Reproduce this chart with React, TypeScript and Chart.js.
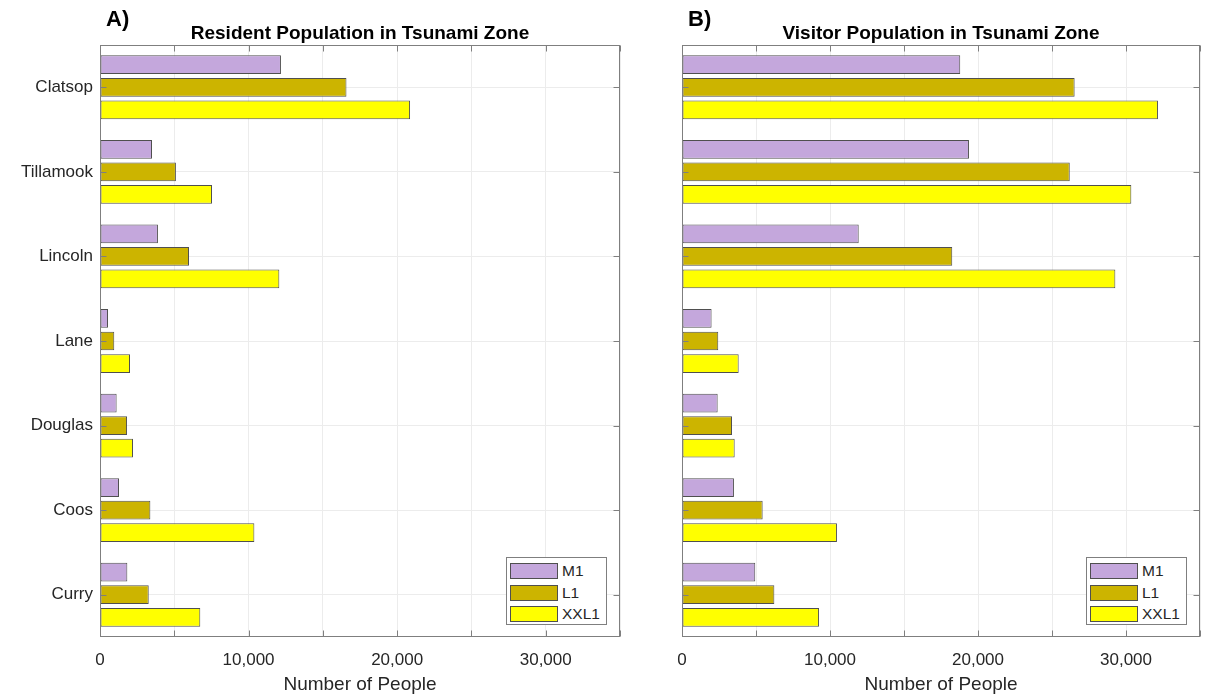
import React, { useEffect, useRef } from 'react';
import { Chart, registerables } from 'chart.js';

Chart.register(...registerables);

// ---------- data ----------
const categories = ['Clatsop', 'Tillamook', 'Lincoln', 'Lane', 'Douglas', 'Coos', 'Curry'];
const seriesNames = ['M1', 'L1', 'XXL1'];
const seriesColors = ['#c4a7dc', '#ccb400', '#ffff00'];

const residentM1 = [12180, 3500, 3900, 540, 1120, 1280, 1840];
const residentL1 = [16590, 5110, 5990, 960, 1820, 3390, 3280];
const residentXXL1 = [20870, 7540, 12070, 2020, 2220, 10390, 6750];

const visitorM1 = [18800, 19390, 11940, 2000, 2410, 3510, 4950];
const visitorL1 = [26530, 26200, 18260, 2450, 3380, 5450, 6240];
const visitorXXL1 = [32160, 30360, 29280, 3830, 3560, 10470, 9260];

const xMin = 0;
const xMax = 35000;
const xStep = 5000;
const xLabelEvery = 10000;

const FONT = "'Liberation Sans', Arial, Helvetica, sans-serif";
const TEXT = '#262626';
const FRAME = '#7f7f7f';
const GRID = '#ececec';

function formatThousands(v: number): string {
  return String(Math.round(v)).replace(/\B(?=(\d{3})+(?!\d))/g, ',');
}

const framePlugin = {
  id: 'matlabFrame',
  afterDraw(chart: any) {
    const { ctx, chartArea } = chart;
    const L = Math.round(chartArea.left) + 0.5;
    const R = Math.round(chartArea.right) - 0.5;
    const T = Math.round(chartArea.top) + 0.5;
    const B = Math.round(chartArea.bottom) - 0.5;
    const tl = 6;
    ctx.save();
    ctx.strokeStyle = FRAME;
    ctx.lineWidth = 1;
    ctx.beginPath();
    const xs = chart.scales.x;
    xs.ticks.forEach((t: any) => {
      const px = Math.round(xs.getPixelForValue(t.value)) + 0.5;
      ctx.moveTo(px, B);
      ctx.lineTo(px, B - tl);
      ctx.moveTo(px, T);
      ctx.lineTo(px, T + tl);
    });
    const ys = chart.scales.y;
    categories.forEach((_c, i) => {
      const py = Math.round(ys.getPixelForValue(i)) + 0.5;
      ctx.moveTo(L, py);
      ctx.lineTo(L + tl, py);
      ctx.moveTo(R, py);
      ctx.lineTo(R - tl, py);
    });
    ctx.stroke();
    ctx.strokeRect(L, T, R - L, B - T);
    ctx.restore();
  },
};

type PanelProps = {
  left: number;
  width: number;
  plotLeft: number; // relative to canvas
  plotRight: number; // relative to canvas
  title: string;
  letter: string;
  values: number[][];
  showYLabels: boolean;
};

const HEIGHT = 694;
const PLOT_TOP = 45;
const PLOT_BOTTOM = 637;

function Panel(props: PanelProps) {
  const ref = useRef<HTMLCanvasElement | null>(null);
  useEffect(() => {
    if (!ref.current) return;
    const chart = new Chart(ref.current, {
      type: 'bar',
      data: {
        labels: categories,
        datasets: seriesNames.map((name, i) => ({
          label: name,
          data: props.values[i],
          backgroundColor: seriesColors[i],
          borderColor: '#4f4f4f',
          borderWidth: 1,
          borderSkipped: false,
          categoryPercentage: 0.8,
          barPercentage: 0.83,
        })),
      },
      options: {
        indexAxis: 'y',
        animation: false,
        responsive: false,
        maintainAspectRatio: false,
        layout: {
          padding: {
            left: 0,
            right: props.width - props.plotRight,
            top: 0,
            bottom: 0,
          },
        },
        plugins: {
          legend: { display: false },
          tooltip: { enabled: false },
          title: {
            display: true,
            fullSize: false,
            text: props.title,
            color: '#000',
            font: { family: FONT, size: 19, weight: 'bold', lineHeight: 1 },
            padding: { top: 24, bottom: PLOT_TOP - 24 - 19 },
          },
        },
        scales: {
          x: {
            type: 'linear',
            position: 'bottom',
            min: xMin,
            max: xMax,
            border: { display: false },
            grid: { color: GRID, drawTicks: false },
            ticks: {
              stepSize: xStep,
              autoSkip: false,
              maxRotation: 0,
              padding: 13,
              color: TEXT,
              font: { family: FONT, size: 17 },
              callback: (v: any) => (Number(v) % xLabelEvery === 0 ? formatThousands(Number(v)) : ''),
            },
            title: {
              display: true,
              text: 'Number of People',
              color: TEXT,
              font: { family: FONT, size: 19, lineHeight: 1 },
              padding: { top: 0, bottom: 0 },
            },
            afterFit: (s: any) => {
              s.height = HEIGHT - PLOT_BOTTOM;
            },
          },
          y: {
            type: 'category',
            offset: true,
            border: { display: false },
            grid: { color: GRID, drawTicks: false, offset: false },
            ticks: {
              display: props.showYLabels,
              padding: 7,
              color: TEXT,
              font: { family: FONT, size: 17 },
            },
            afterFit: (s: any) => {
              s.width = props.plotLeft;
            },
          },
        },
      },
      plugins: [framePlugin],
    });
    return () => chart.destroy();
  }, []);

  const legendRight = props.left + props.plotRight - 13;
  const legendBottom = PLOT_BOTTOM - 12;
  const legendW = 101;
  const legendH = 68;

  return (
    <>
      <canvas
        ref={ref}
        width={props.width}
        height={HEIGHT}
        style={{ position: 'absolute', left: props.left, top: 0, width: props.width, height: HEIGHT }}
      />
      <div
        style={{
          position: 'absolute',
          left: props.left + props.plotLeft + 6,
          top: 6,
          fontFamily: FONT,
          fontWeight: 'bold',
          fontSize: 22,
          lineHeight: '26px',
          color: '#000',
        }}
      >
        {props.letter}
      </div>
      <div
        style={{
          position: 'absolute',
          left: legendRight - legendW,
          top: legendBottom - legendH,
          width: legendW - 2,
          height: legendH - 2,
          border: `1px solid ${FRAME}`,
          background: '#fff',
          fontFamily: FONT,
          fontSize: 15.5,
          color: TEXT,
        }}
      >
        {seriesNames.map((name, i) => (
          <div
            key={name}
            style={{ position: 'absolute', left: 3, top: 5 + i * 21.5, height: 16, display: 'flex', alignItems: 'center' }}
          >
            <div
              style={{
                width: 46,
                height: 14,
                background: seriesColors[i],
                border: '1px solid #4f4f4f',
              }}
            />
            <span style={{ marginLeft: 4, lineHeight: '16px' }}>{name}</span>
          </div>
        ))}
      </div>
    </>
  );
}

export default function App() {
  return (
    <div style={{ position: 'absolute', left: 0, top: 0, width: 1214, height: HEIGHT, background: '#fff', overflow: 'hidden' }}>
      <Panel
        left={0}
        width={650}
        plotLeft={100}
        plotRight={620}
        title="Resident Population in Tsunami Zone"
        letter="A)"
        values={[residentM1, residentL1, residentXXL1]}
        showYLabels={true}
      />
      <Panel
        left={650}
        width={564}
        plotLeft={32}
        plotRight={550}
        title="Visitor Population in Tsunami Zone"
        letter="B)"
        values={[visitorM1, visitorL1, visitorXXL1]}
        showYLabels={false}
      />
    </div>
  );
}
